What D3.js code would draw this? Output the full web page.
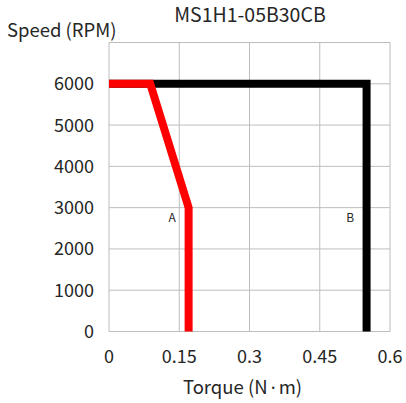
<!DOCTYPE html>
<html><head><meta charset="utf-8">
<script src="https://cdn.jsdelivr.net/npm/d3@7/dist/d3.min.js"></script>
<style>body{margin:0;background:#fff}text{font-family:"Noto Sans CJK SC","Noto Sans",sans-serif;fill:#262626;font-weight:400}</style>
</head><body><svg id="c" width="406" height="403"></svg>
<script>
const title = "MS1H1-05B30CB";
const xTicks = [0, 0.15, 0.3, 0.45, 0.6];
const xTickLabels = ["0", "0.15", "0.3", "0.45", "0.6"];
const yTicks = [0, 1000, 2000, 3000, 4000, 5000, 6000];
const curveB = [[0, 6000], [0.55, 6000], [0.55, 0]];
const curveA = [[0, 6000], [0.088, 6000], [0.17, 3000], [0.17, 0]];
const labelA = {text: "A", x: 0.135, y: 3000};
const labelB = {text: "B", x: 0.515, y: 3000};

const svg = d3.select("#c");
const L = 109, R = 390, T = 42.5, B = 331.5;
const x = d3.scaleLinear().domain([0, 0.6]).range([L, R]);
const y = d3.scaleLinear().domain([0, 7000]).range([B, T]);
const grid = "#bdbdbd";

const g = svg.append("g");
g.selectAll(".vx").data(xTicks).join("line")
  .attr("x1", d => x(d)).attr("x2", d => x(d)).attr("y1", T).attr("y2", B)
  .attr("stroke", grid).attr("stroke-width", 1);
g.selectAll(".hy").data(yTicks.concat([7000])).join("line")
  .attr("x1", L).attr("x2", R).attr("y1", d => y(d)).attr("y2", d => y(d))
  .attr("stroke", grid).attr("stroke-width", 1);

svg.selectAll(".yl").data(yTicks).join("text")
  .attr("x", 94).attr("y", d => y(d)).attr("dy", "0.36em")
  .attr("text-anchor", "end").attr("font-size", 18).text(d => d);
svg.selectAll(".xl").data(xTicks).join("text")
  .attr("x", d => x(d)).attr("y", 363)
  .attr("text-anchor", "middle").attr("font-size", 18).text((d, i) => xTickLabels[i]);

const line = d3.line().x(d => x(d[0])).y(d => y(d[1]));
svg.append("path").attr("d", line(curveB)).attr("fill", "none")
  .attr("stroke", "#000").attr("stroke-width", 8).attr("stroke-linejoin", "miter");
svg.append("path").attr("d", line(curveA)).attr("fill", "none")
  .attr("stroke", "#ff0000").attr("stroke-width", 8).attr("stroke-linejoin", "miter");

[labelA, labelB].forEach(l => {
  svg.append("text").attr("x", x(l.x)).attr("y", y(l.y) + 14)
    .attr("text-anchor", "middle").attr("font-size", 12).text(l.text);
});

svg.append("text").attr("x", 250).attr("y", 22).attr("text-anchor", "middle")
  .attr("font-size", 19.5).text(title);
svg.append("text").attr("x", 7).attr("y", 37).attr("font-size", 18.5).text("Speed (RPM)");
const xt = svg.append("text").attr("x", 242.5).attr("y", 394).attr("text-anchor", "middle")
  .attr("font-size", 18.5);
xt.append("tspan").text("Torque (N");
xt.append("tspan").style("font-family", "'Noto Sans'").text("\u2009\u00B7\u2009");
xt.append("tspan").text("m)");
</script></body></html>
